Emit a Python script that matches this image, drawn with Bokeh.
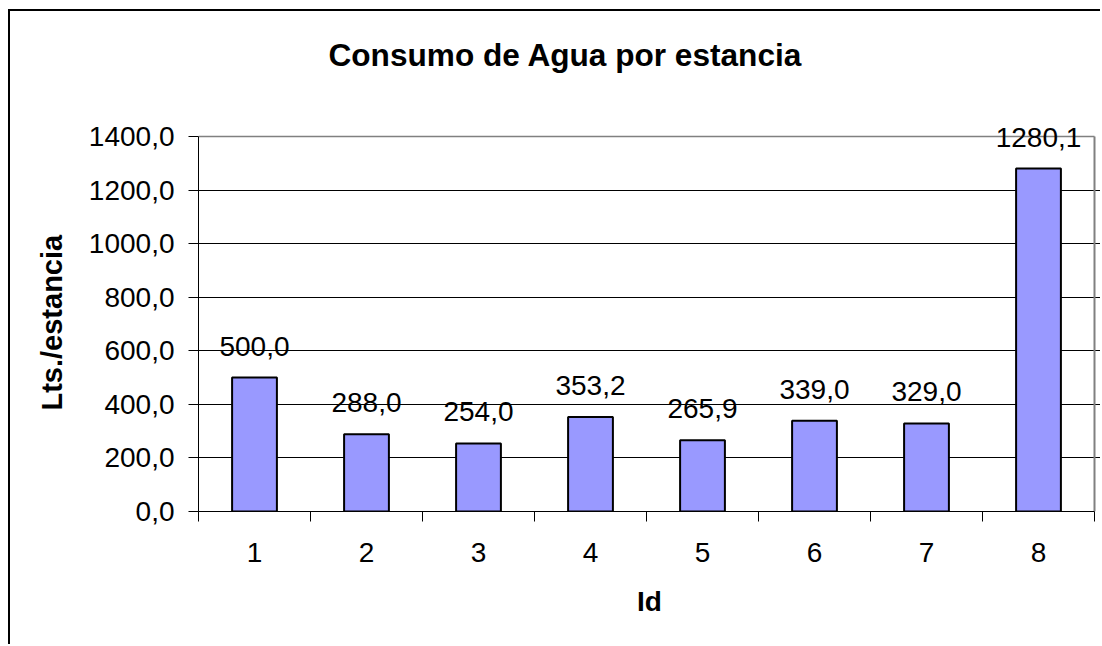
from bokeh.plotting import figure
from bokeh.models import ColumnDataSource, FixedTicker, LabelSet, Label, Range1d, Title
from bokeh.core.properties import value
from bokeh.embed import file_html
from bokeh.resources import INLINE

ids = [1, 2, 3, 4, 5, 6, 7, 8]
consumo = [500.0, 288.0, 254.0, 353.2, 265.9, 339.0, 329.0, 1280.1]
y_ticks = [0, 200, 400, 600, 800, 1000, 1200, 1400]
title_text = "Consumo de Agua por estancia"
x_title = "Id"
y_title = "Lts./estancia"

def fmt(v):
    return f"{v:.1f}".replace(".", ",")

labels = [fmt(v) for v in consumo]
src = ColumnDataSource(dict(x=ids, y=consumo, label=labels))

FONT = "Liberation Sans"

# pixel layout of the plot area
AREA_H = 375          # px from 0 to 1400
TOP_PAD = 101         # white space above 1400 (room for the title)
RIGHT_PAD = 6
CAT_W = 112           # px per category
y_lo, y_hi = y_ticks[0], y_ticks[-1]
x_lo, x_hi = ids[0] - 0.5, ids[-1] + 0.5
y_end = y_hi + (y_hi - y_lo) * TOP_PAD / AREA_H
x_end = x_hi + RIGHT_PAD / CAT_W

p = figure(width=1100, height=644, output_backend="svg", toolbar_location=None,
           x_range=Range1d(x_lo, x_end), y_range=Range1d(y_lo, y_end),
           min_border_left=198, min_border_right=0, min_border_top=35, min_border_bottom=133,
           background_fill_color="white", border_fill_alpha=0)
# chart border: left and top edges, drawn as inset shadows behind the transparent border area
p.styles = {"box-shadow": "inset 8px 9px 0px 0px white, inset 10px 11px 0px 0px black",
            "background-color": "white"}

p.outline_line_color = None
p.title.text = ""
p.title.standoff = 0

# chart title (inside the white area above the plot)
p.add_layout(Label(x=x_lo, y=y_hi, x_offset=130, y_offset=82, text=title_text,
                   text_font=FONT, text_font_size="31.6px", text_font_style="bold",
                   text_color="black", text_align="left", text_baseline="alphabetic"))

# y axis title, placed as a left title
ytitle = Title(text=y_title, align="left", offset=101, standoff=36,
               text_font=FONT, text_font_size="29px", text_font_style="bold",
               text_color="black")
p.add_layout(ytitle, "left")

# plot-area edges (top and right), grey like the reference
p.line(x=[x_lo, x_hi], y=[y_hi, y_hi], line_color="#808080", line_width=1.5)
p.line(x=[x_hi, x_hi], y=[y_lo, y_hi], line_color="#808080", line_width=2)

# bars
p.vbar(x="x", top="y", width=0.4, source=src, fill_color="#9999FF",
       line_color="black", line_width=2)

# value labels
ls = LabelSet(x="x", y="y", text="label", source=src, text_align="center",
              text_baseline="alphabetic", y_offset=22,
              text_font=value(FONT), text_font_size="28px", text_color="black")
p.add_layout(ls)

# y axis
p.yaxis.bounds = (y_lo, y_hi)
p.yaxis.ticker = FixedTicker(ticks=y_ticks)
p.yaxis.major_label_overrides = {t: fmt(t) for t in y_ticks}
p.yaxis.major_label_text_font = FONT
p.yaxis.major_label_text_font_size = "28px"
p.yaxis.major_label_text_color = "black"
p.yaxis.major_tick_out = 10
p.yaxis.major_tick_in = 0
p.yaxis.major_tick_line_color = "black"
p.yaxis.minor_tick_line_color = None
p.yaxis.major_label_standoff = 14
p.yaxis.axis_line_color = "black"

# x axis
bounds = [i - 0.5 for i in ids] + [ids[-1] + 0.5]
p.xaxis.bounds = (x_lo, x_hi)
p.xaxis.ticker = FixedTicker(ticks=ids, minor_ticks=bounds)
p.xaxis.major_label_overrides = {i: str(i) for i in ids}
p.xaxis.major_label_text_font = FONT
p.xaxis.major_label_text_font_size = "28px"
p.xaxis.major_label_text_color = "black"
p.xaxis.major_tick_out = 0
p.xaxis.major_tick_in = 0
p.xaxis.minor_tick_out = 10
p.xaxis.minor_tick_in = 0
p.xaxis.minor_tick_line_color = "black"
p.xaxis.major_label_standoff = 21
p.xaxis.axis_line_color = "black"
p.xaxis.axis_label = x_title
p.xaxis.axis_label_text_font = FONT
p.xaxis.axis_label_text_font_size = "28px"
p.xaxis.axis_label_text_font_style = "bold"
p.xaxis.axis_label_text_color = "black"
p.xaxis.axis_label_standoff = 21

# grid
p.xgrid.grid_line_color = None
p.ygrid.ticker = FixedTicker(ticks=y_ticks[:-1])
p.ygrid.grid_line_color = "black"
p.ygrid.grid_line_width = 1

open("out.html", "w").write(file_html(p, INLINE))
